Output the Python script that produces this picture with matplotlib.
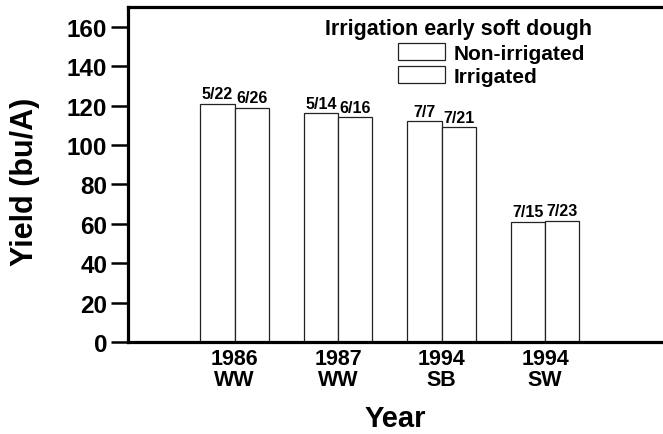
import numpy as np
import matplotlib.pyplot as plt

plt.rcParams['font.family'] = ['Liberation Sans', 'DejaVu Sans']
plt.rcParams['font.weight'] = 'bold'

groups = ['1986\nWW', '1987\nWW', '1994\nSB', '1994\nSW']
non_irrigated = [121, 116, 112, 61]
irrigated = [119, 114, 109, 61.5]
dates_non = ['5/22', '5/14', '7/7', '7/15']
dates_irr = ['6/26', '6/16', '7/21', '7/23']

fig = plt.figure(figsize=(6.63, 4.35), dpi=100)
ax = fig.add_axes([128 / 663, 92 / 435, 535 / 663, 335 / 435])

x = np.arange(1, len(groups) + 1)
w = 0.332
b1 = ax.bar(x - w / 2, non_irrigated, w, color='white', edgecolor='#222222', linewidth=0.9, label='Non-irrigated')
b2 = ax.bar(x + w / 2, irrigated, w, color='white', edgecolor='#222222', linewidth=0.9, label='Irrigated')

for bars, labs in [(b1, dates_non), (b2, dates_irr)]:
    for bar, lab in zip(bars, labs):
        ax.text(bar.get_x() + bar.get_width() / 2, bar.get_height() + 1.3, lab,
                ha='center', va='bottom', fontsize=11.5, fontweight='bold')

ax.set_xlim(-0.03, 5.14)
ax.set_ylim(0, 170)
ax.set_yticks(range(0, 161, 20))
ax.set_xticks(x)
ax.set_xticklabels(groups, fontsize=15.5, fontweight='bold', linespacing=1.05)
ax.tick_params(axis='x', length=0, pad=4)
ax.tick_params(axis='y', labelsize=17.5, width=1.8, length=12, pad=3)
for lab in ax.get_yticklabels():
    lab.set_fontweight('bold')

ax.spines['right'].set_visible(False)
for s in ['left', 'bottom', 'top']:
    ax.spines[s].set_linewidth(2.3)

ax.set_ylabel('Yield (bu/A)', fontsize=22, fontweight='bold', va='center')
ax.yaxis.set_label_coords((25 - 128) / 535, 0.48)
ax.set_xlabel('Year', fontsize=21, fontweight='bold', va='baseline')
ax.xaxis.set_label_coords(0.5, (343 - 427) / 335)

fig.text(325 / 663, 1 - 35 / 435, 'Irrigation early soft dough', fontsize=15.5,
         fontweight='bold', ha='left', va='baseline')
leg = ax.legend(loc='upper left', bbox_to_anchor=(398 / 663, 1 - 44 / 435), bbox_transform=fig.transFigure,
                frameon=False, fontsize=15, handlelength=2.25, handleheight=0.9,
                handletextpad=0.4, labelspacing=0.15, borderpad=0, borderaxespad=0)
for t in leg.get_texts():
    t.set_fontweight('bold')

fig.savefig('out.png', dpi=100)
